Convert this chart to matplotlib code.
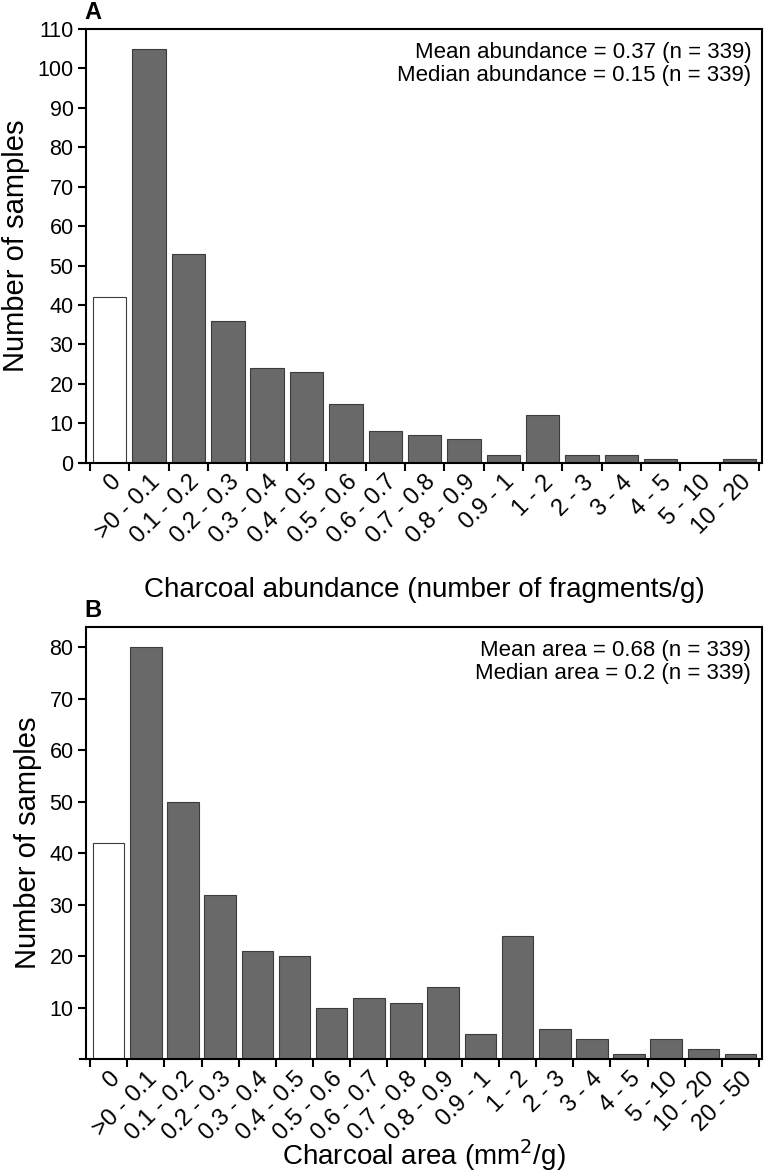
import numpy as np
import matplotlib
matplotlib.use("Agg")
from matplotlib import pyplot as plt
from matplotlib import transforms

plt.rcParams['font.family'] = ['Liberation Sans', 'DejaVu Sans']

# panel A - charcoal abundance classes
cats_a = ["0", ">0 - 0.1", "0.1 - 0.2", "0.2 - 0.3", "0.3 - 0.4", "0.4 - 0.5",
          "0.5 - 0.6", "0.6 - 0.7", "0.7 - 0.8", "0.8 - 0.9", "0.9 - 1",
          "1 - 2", "2 - 3", "3 - 4", "4 - 5", "5 - 10", "10 - 20"]
counts_a = [42, 105, 53, 36, 24, 23, 15, 8, 7, 6, 2, 12, 2, 2, 1, 0, 1]
yticks_a = [0, 10, 20, 30, 40, 50, 60, 70, 80, 90, 100, 110]

# panel B - charcoal area classes
cats_b = ["0", ">0 - 0.1", "0.1 - 0.2", "0.2 - 0.3", "0.3 - 0.4", "0.4 - 0.5",
          "0.5 - 0.6", "0.6 - 0.7", "0.7 - 0.8", "0.8 - 0.9", "0.9 - 1",
          "1 - 2", "2 - 3", "3 - 4", "4 - 5", "5 - 10", "10 - 20", "20 - 50"]
counts_b = [42, 80, 50, 32, 21, 20, 10, 12, 11, 14, 5, 24, 6, 4, 1, 4, 2, 1]
yticks_b = [10, 20, 30, 40, 50, 60, 70, 80]

DARK = "#696969"
EDGE = "#3c3c3c"


def histo(ax, cats, counts, ymax, yticks, xlabel, note, xlab_y):
    n = len(cats)
    x = np.arange(n)
    cols = ["white"] + [DARK] * (n - 1)
    ax.bar(x, counts, width=0.85, color=cols, edgecolor=EDGE, linewidth=0.8)
    pitch_px = 676.0 / (n + 0.2)
    ax.set_xlim(-0.5 - 4.0 / pitch_px, n - 0.5 + 3.0 / pitch_px)
    ax.set_ylim(0, ymax)

    # ticks at the class boundaries, labels at the bar centres
    ax.set_xticks(np.arange(n + 1) - 0.5)
    ax.set_xticklabels([])
    ax.set_xticks(x, minor=True)
    ax.set_xticklabels(cats, minor=True, rotation=45, ha='right',
                       rotation_mode='anchor', fontsize=17)
    shift = transforms.ScaledTranslation(6 / 100, 0, ax.figure.dpi_scale_trans)
    for lab in ax.get_xticklabels(minor=True):
        lab.set_transform(lab.get_transform() + shift)
    ax.tick_params(axis='x', which='major', direction='out', length=6, width=1.5)
    ax.tick_params(axis='x', which='minor', length=0, pad=6)
    ax.set_yticks(yticks)
    ax.tick_params(axis='y', direction='out', length=6, width=1.5,
                   labelsize=15.5, pad=3)

    for s in ax.spines.values():
        s.set_linewidth(1.5)
    xl = ax.get_xlim()
    ax.spines['bottom'].set_bounds(xl[0] - 6.0 / pitch_px, xl[1])

    ax.set_ylabel("Number of samples", fontsize=21, labelpad=5)
    ax.set_xlabel(xlabel, fontsize=20)
    ax.xaxis.set_label_coords(0.5, xlab_y)
    ax.xaxis.label.set_va('center')
    ax.text(0.984, 0.969, note, transform=ax.transAxes, ha='right', va='top',
            fontsize=16, linespacing=1.1)


fig = plt.figure(figsize=(7.64, 11.76), dpi=100)
ax_a = fig.add_axes([0.1126, 0.6065, 0.885, 0.3688])
ax_b = fig.add_axes([0.1126, 0.0991, 0.885, 0.368])

histo(ax_a, cats_a, counts_a, 110, yticks_a,
      "Charcoal abundance (number of fragments/g)",
      "Mean abundance = 0.37 (n = 339)\nMedian abundance = 0.15 (n = 339)",
      -0.293)
histo(ax_b, cats_b, counts_b, 84, yticks_b,
      "Charcoal area (mm$^2$/g)",
      "Mean area = 0.68 (n = 339)\nMedian area = 0.2 (n = 339)",
      -0.222)

fig.text(0.110, 0.9838, "A", fontsize=17, fontweight='bold', va='baseline')
fig.text(0.110, 0.4753, "B", fontsize=17, fontweight='bold', va='baseline')

fig.savefig("out.png", dpi=100)
